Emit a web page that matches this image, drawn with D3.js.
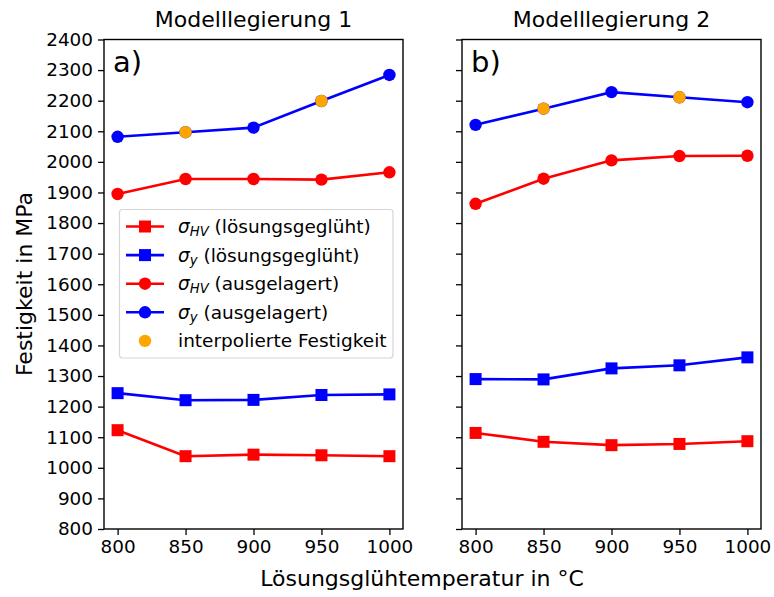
<!DOCTYPE html>
<html><head><meta charset="utf-8">
<script src="https://cdn.jsdelivr.net/npm/d3@7"></script>
<style>body{margin:0;background:#fff}svg{display:block;font-family:"DejaVu Sans",sans-serif}</style>
</head><body><svg id="c" width="774" height="597"></svg>
<script>
const temps = [800, 850, 900, 950, 1000];
const yTicks = [800,900,1000,1100,1200,1300,1400,1500,1600,1700,1800,1900,2000,2100,2200,2300,2400];
const interpTemps = [850, 950];
// Modelllegierung 1
const hvLsg1 = [1123, 1038, 1043, 1041, 1038];
const yLsg1  = [1244, 1221, 1222, 1238, 1240];
const hvAus1 = [1895, 1944, 1944, 1942, 1966];
const yAus1  = [2082, 2097, 2112, 2199, 2284];
const interp1 = [2097, 2199];
// Modelllegierung 2
const hvLsg2 = [1114, 1085, 1074, 1078, 1087];
const yLsg2  = [1290, 1289, 1325, 1335, 1361];
const hvAus2 = [1863, 1945, 2005, 2019, 2020];
const yAus2  = [2121, 2174, 2228, 2211, 2195];
const interp2 = [2174, 2211];
const titles = ["Modelllegierung 1", "Modelllegierung 2"];
const tags = ["a)", "b)"];

const svg = d3.select("#c");
const plotTop = 39.5, plotBottom = 529;
const panels = [
  {x0: 104, x1: 403, hvL: hvLsg1, yL: yLsg1, hvA: hvAus1, yA: yAus1, ip: interp1, labels: true},
  {x0: 462, x1: 761, hvL: hvLsg2, yL: yLsg2, hvA: hvAus2, yA: yAus2, ip: interp2, labels: false}
];
const y = d3.scaleLinear().domain([800, 2400]).range([plotBottom, plotTop]);
const RED = "#ff0000", BLUE = "#0000ff", ORANGE = "#ffa500";
const TICK_FS = 18.4, LABEL_FS = 22, LEG_FS = 18.5;

panels.forEach((p, i) => {
  const x = d3.scaleLinear().domain([790, 1010]).range([p.x0, p.x1]);
  const g = svg.append("g");
  const ya = d3.axisLeft(y).tickValues(yTicks).tickSize(6).tickPadding(5)
    .tickFormat(p.labels ? d3.format("d") : () => "");
  const yg = g.append("g").attr("transform", `translate(${p.x0},0)`).call(ya);
  const xa = d3.axisBottom(x).tickValues(temps).tickSize(6).tickPadding(5).tickFormat(d3.format("d"));
  const xg = g.append("g").attr("transform", `translate(0,${plotBottom})`).call(xa);
  [yg, xg].forEach(a => {
    a.select(".domain").remove();
    a.selectAll(".tick line").attr("stroke", "#000").attr("stroke-width", 1.3);
    a.selectAll(".tick text").attr("font-size", TICK_FS).attr("fill", "#000").attr("font-family", "DejaVu Sans");
  });
  g.append("rect").attr("x", p.x0).attr("y", plotTop).attr("width", p.x1 - p.x0).attr("height", plotBottom - plotTop)
    .attr("fill", "none").attr("stroke", "#000").attr("stroke-width", 1.4);
  g.append("text").attr("x", (p.x0 + p.x1) / 2).attr("y", 27).attr("text-anchor", "middle")
    .attr("font-size", LABEL_FS).text(titles[i]);
  g.append("text").attr("x", p.x0 + 9).attr("y", 72).attr("font-size", 29).text(tags[i]);

  const line = d3.line().x((d, k) => x(temps[k])).y(d => y(d));
  const series = [
    {v: p.hvL, c: RED, m: "sq"},
    {v: p.yL, c: BLUE, m: "sq"},
    {v: p.hvA, c: RED, m: "ci"},
    {v: p.yA, c: BLUE, m: "ci"}
  ];
  series.forEach(s => {
    g.append("path").datum(s.v).attr("d", line).attr("fill", "none").attr("stroke", s.c).attr("stroke-width", 2.6);
    if (s.m === "sq") {
      g.selectAll(null).data(s.v).enter().append("rect")
        .attr("x", (d, k) => x(temps[k]) - 6).attr("y", d => y(d) - 6)
        .attr("width", 12).attr("height", 12).attr("fill", s.c);
    } else {
      g.selectAll(null).data(s.v).enter().append("circle")
        .attr("cx", (d, k) => x(temps[k])).attr("cy", d => y(d)).attr("r", 6.2).attr("fill", s.c);
    }
  });
  g.selectAll(null).data(p.ip).enter().append("circle")
    .attr("cx", (d, k) => x(interpTemps[k])).attr("cy", d => y(d)).attr("r", 6.2).attr("fill", ORANGE);
});

const lg = svg.append("g");
lg.append("rect").attr("x", 119.5).attr("y", 209.5).attr("width", 273.5).attr("height", 148.5)
  .attr("rx", 3).attr("fill", "#fff").attr("fill-opacity", 0.8).attr("stroke", "#d6d6d6").attr("stroke-width", 1.2);
const legItems = [
  {c: RED, m: "sq", sub: "HV", txt: " (lösungsgeglüht)"},
  {c: BLUE, m: "sq", sub: "y", txt: " (lösungsgeglüht)"},
  {c: RED, m: "ci", sub: "HV", txt: " (ausgelagert)"},
  {c: BLUE, m: "ci", sub: "y", txt: " (ausgelagert)"},
  {c: ORANGE, m: "pt", sub: null, txt: "interpolierte Festigkeit"}
];
legItems.forEach((it, k) => {
  const cy = 226.5 + k * 28.6;
  if (it.m !== "pt") lg.append("line").attr("x1", 126).attr("x2", 164).attr("y1", cy).attr("y2", cy)
    .attr("stroke", it.c).attr("stroke-width", 2.6);
  if (it.m === "sq") lg.append("rect").attr("x", 139).attr("y", cy - 6).attr("width", 12).attr("height", 12).attr("fill", it.c);
  else lg.append("circle").attr("cx", 145).attr("cy", cy).attr("r", 6.2).attr("fill", it.c);
  const t = lg.append("text").attr("x", 178).attr("y", cy + 6.5).attr("font-size", LEG_FS);
  if (it.sub) {
    t.append("tspan").attr("font-style", "italic").text("σ");
    t.append("tspan").attr("font-style", "italic").attr("font-size", 13.2).attr("dy", 3).text(it.sub);
    t.append("tspan").attr("dy", -3).text(it.txt);
  } else t.text(it.txt);
});

svg.append("text").attr("x", 422).attr("y", 586).attr("text-anchor", "middle").attr("font-size", LABEL_FS)
  .text("Lösungsglühtemperatur in °C");
svg.append("text").attr("transform", "translate(32,284) rotate(-90)").attr("text-anchor", "middle")
  .attr("font-size", LABEL_FS).text("Festigkeit in MPa");
</script></body></html>
